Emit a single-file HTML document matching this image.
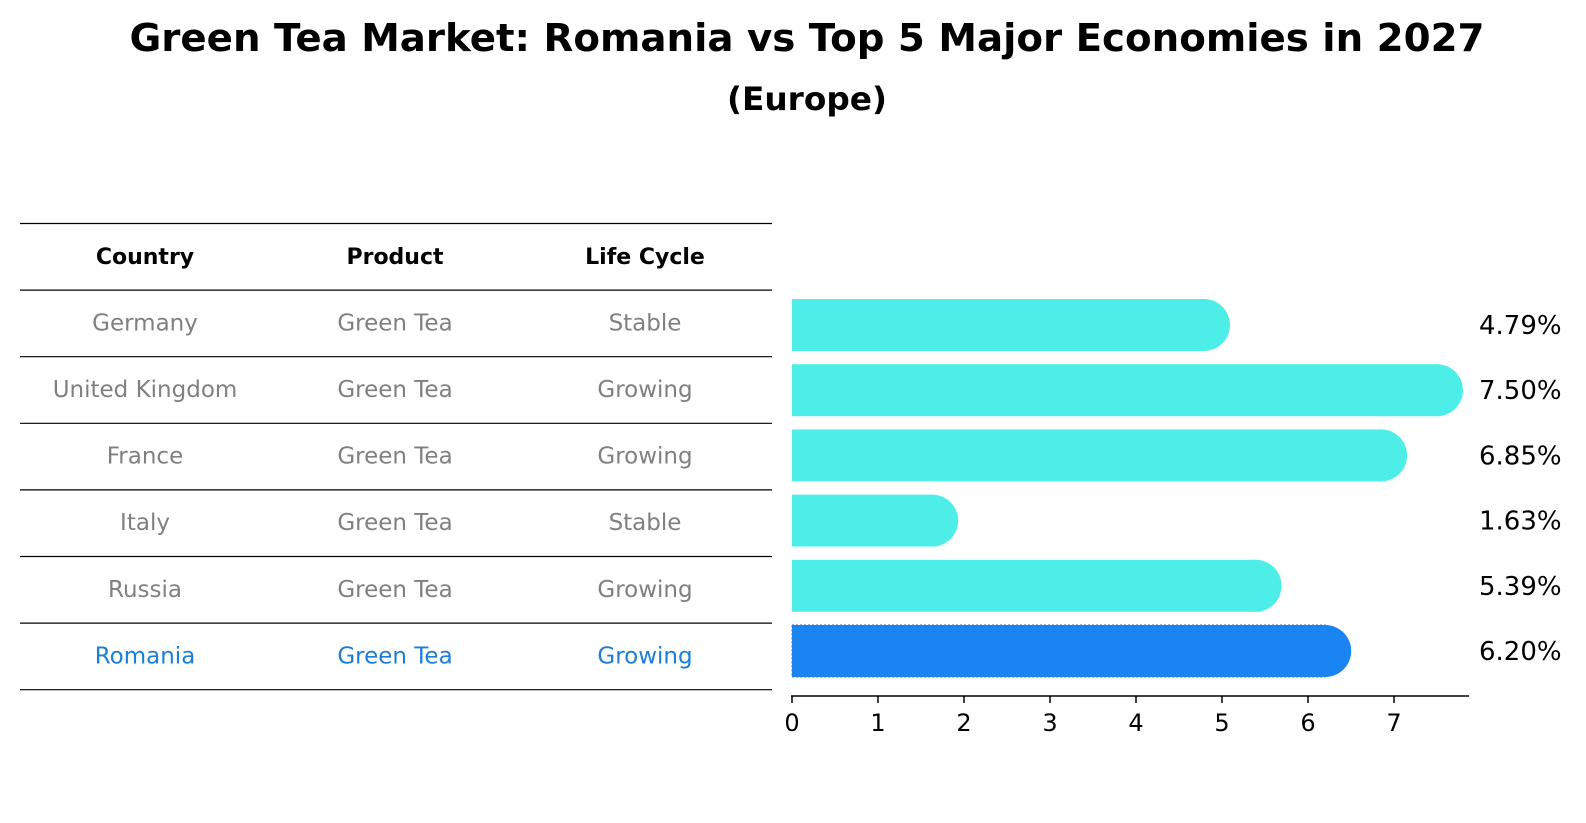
<!DOCTYPE html>
<html><head><meta charset="utf-8"><style>
html,body{margin:0;padding:0;background:#fff;}
svg{display:block;font-family:"DejaVu Sans","Liberation Sans",sans-serif;}
</style></head><body>
<svg width="1586" height="823" viewBox="0 0 1586 823">
<text x="807" y="51" text-anchor="middle" font-size="38" font-weight="bold" textLength="1355" lengthAdjust="spacingAndGlyphs">Green Tea Market: Romania vs Top 5 Major Economies in 2027</text>
<text x="807" y="110" text-anchor="middle" font-size="32" font-weight="bold" textLength="160" lengthAdjust="spacingAndGlyphs">(Europe)</text>
<g id="table"></g>
<g id="bars"></g>
</svg>
<script>
const countries=["Germany","United Kingdom","France","Italy","Russia","Romania"];
const products=["Green Tea","Green Tea","Green Tea","Green Tea","Green Tea","Green Tea"];
const lifeCycles=["Stable","Growing","Growing","Stable","Growing","Growing"];
const growth=[4.79,7.50,6.85,1.63,5.39,6.20];
const xTicks=[0,1,2,3,4,5,6,7];
const NS="http://www.w3.org/2000/svg";
function mk(tag,attrs,parent){const e=document.createElementNS(NS,tag);for(const k in attrs)e.setAttribute(k,attrs[k]);parent.appendChild(e);return e;}
const tbl=document.getElementById('table');
const colX=[145,395,645];
const rowTop=223.5,rowH=66.6;
for(let i=0;i<=countries.length+1;i++){
  const l=mk('line',{x1:20,x2:772,y1:rowTop+i*rowH,y2:rowTop+i*rowH,stroke:'#000','stroke-width':1.2},tbl);
  
  
}
const heads=["Country","Product","Life Cycle"];
heads.forEach((h,j)=>{
  const t=mk('text',{x:colX[j],y:rowTop+rowH/2+7,'text-anchor':'middle','font-size':22,'font-weight':'bold'},tbl);
  t.textContent=h;
  
  
});
countries.forEach((c,i)=>{
  const vals=[c,products[i],lifeCycles[i]];
  const col=c==="Romania"?'#1a7fd8':'#808080';
  vals.forEach((v,j)=>{
    const t=mk('text',{x:colX[j],y:rowTop+(i+1)*rowH+rowH/2+7,'text-anchor':'middle','font-size':23,fill:col},tbl);
    t.textContent=v;
    
    
  });
});
const bars=document.getElementById('bars');
const x0=792,ppu=86;
function xs(v){return x0+v*ppu;}
const barTop0=299,barStep=65.2,barH=52;
growth.forEach((v,i)=>{
  const y=barTop0+i*barStep;
  const isR=countries[i]==="Romania";
  const fill=isR?'#1a84f2':'#4eeee8';
  const r=mk('rect',{x:xs(0),y:y,width:xs(v)-xs(0),height:barH,fill:fill},bars);
  if(isR){r.setAttribute('stroke','#3a6fcf');r.setAttribute('stroke-dasharray','2 2');r.setAttribute('stroke-width',1);}
  
  
  const c=mk('circle',{cx:xs(v),cy:y+barH/2,r:barH/2,fill:fill},bars);
  
  
  const t=mk('text',{x:1479,y:y+barH/2+9,'font-size':26},bars);
  t.textContent=v.toFixed(2)+'%';
  
  
});
const axY=696;
const ax=mk('line',{x1:xs(0)-1,x2:1469,y1:axY,y2:axY,stroke:'#000','stroke-width':1.5},bars);


xTicks.forEach(v=>{
  const l=mk('line',{x1:xs(v),x2:xs(v),y1:axY,y2:axY+7,stroke:'#000','stroke-width':1.5},bars);
  
  
  const t=mk('text',{x:xs(v),y:axY+35,'text-anchor':'middle','font-size':24},bars);
  t.textContent=v;
  
  
});
</script>
</body></html>
